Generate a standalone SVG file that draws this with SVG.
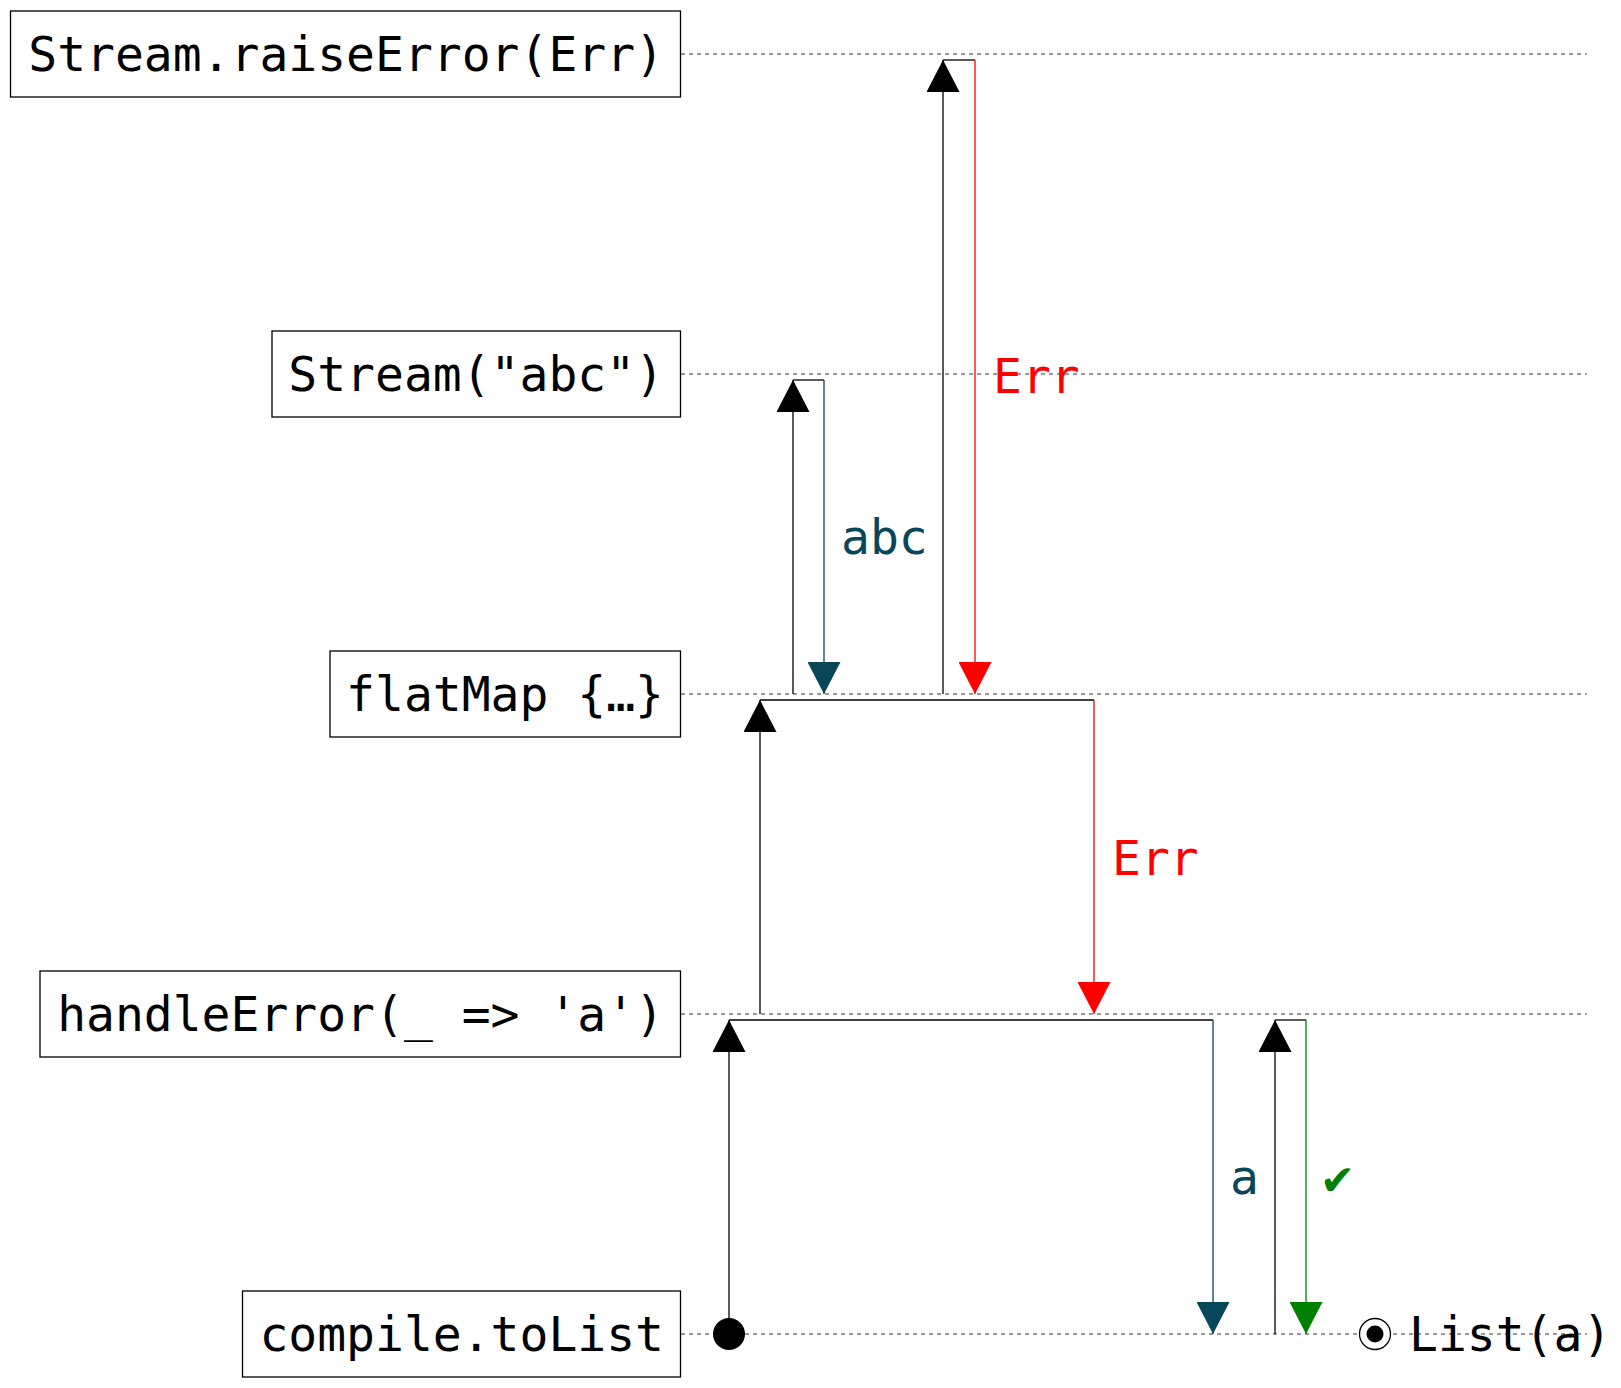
<svg xmlns="http://www.w3.org/2000/svg" width="1621" height="1388" viewBox="0 0 1621 1388">
  <style>
    .box { fill: #ffffff; stroke: #000000; stroke-width: 1.3; }
    .lbl { font-family: "DejaVu Sans Mono", "Liberation Mono", monospace; font-size: 48px; }
    .node-text { text-anchor: end; fill: #000000; }
    .lane { stroke: #7a7a7a; stroke-width: 1.3; stroke-dasharray: 4 4; fill: none; }
    .wire { fill: none; stroke-width: 1.3; }
    .up { stroke: #000000; marker-end: url(#head-black); }
    .flat { stroke: #000000; }
    .val { stroke: #084659; marker-end: url(#head-teal); }
    .err { stroke: #ff0000; marker-end: url(#head-red); }
    .done { stroke: #008000; marker-end: url(#head-green); }
  </style>
  <defs>
    <marker id="head-black" viewBox="0 0 32 33" refX="32" refY="16.5" markerWidth="32" markerHeight="33" markerUnits="userSpaceOnUse" orient="auto">
      <path d="M0,0 L32,16.5 L0,33 z" fill="#000000"/>
    </marker>
    <marker id="head-teal" viewBox="0 0 32 33" refX="32" refY="16.5" markerWidth="32" markerHeight="33" markerUnits="userSpaceOnUse" orient="auto">
      <path d="M0,0 L32,16.5 L0,33 z" fill="#084659"/>
    </marker>
    <marker id="head-red" viewBox="0 0 32 33" refX="32" refY="16.5" markerWidth="32" markerHeight="33" markerUnits="userSpaceOnUse" orient="auto">
      <path d="M0,0 L32,16.5 L0,33 z" fill="#ff0000"/>
    </marker>
    <marker id="head-green" viewBox="0 0 32 33" refX="32" refY="16.5" markerWidth="32" markerHeight="33" markerUnits="userSpaceOnUse" orient="auto">
      <path d="M0,0 L32,16.5 L0,33 z" fill="#008000"/>
    </marker>
  </defs>

  <rect width="1621" height="1388" fill="#ffffff"/>

  <!-- timeline lanes -->
  <g id="lanes">
    <line class="lane" x1="681" y1="54" x2="1587" y2="54"/>
    <line class="lane" x1="681" y1="374" x2="1587" y2="374"/>
    <line class="lane" x1="681" y1="694" x2="1587" y2="694"/>
    <line class="lane" x1="681" y1="1014" x2="1587" y2="1014"/>
    <line class="lane" x1="681" y1="1334" x2="1587" y2="1334"/>
  </g>

  <!-- stages -->
  <g id="node-raise-error">
    <rect class="box" x="10.5" y="11" width="670" height="86"/>
    <text class="lbl node-text" x="664" y="71">Stream.raiseError(Err)</text>
  </g>
  <g id="node-stream-abc">
    <rect class="box" x="272" y="331" width="408.5" height="86"/>
    <text class="lbl node-text" x="664" y="391">Stream("abc")</text>
  </g>
  <g id="node-flatmap">
    <rect class="box" x="330" y="651" width="350.5" height="86"/>
    <text class="lbl node-text" x="664" y="711">flatMap {…}</text>
  </g>
  <g id="node-handle-error">
    <rect class="box" x="40" y="971" width="640.5" height="86"/>
    <text class="lbl node-text" x="664" y="1031">handleError(_ =&gt; 'a')</text>
  </g>
  <g id="node-to-list">
    <rect class="box" x="242.5" y="1291" width="438" height="86"/>
    <text class="lbl node-text" x="664" y="1351">compile.toList</text>
  </g>

  <!-- pulls and emissions -->
  <g id="connectors">
    <!-- flatMap pulls Stream("abc"), gets abc -->
    <path class="wire up" d="M793,694 V380"/>
    <path class="wire flat" d="M793,380 H824"/>
    <path class="wire val" d="M824,380 V694"/>
    <text class="lbl" x="841" y="554" fill="#084659">abc</text>

    <!-- flatMap pulls raiseError, gets Err -->
    <path class="wire up" d="M943,694 V60"/>
    <path class="wire flat" d="M943,60 H975"/>
    <path class="wire err" d="M975,60 V694"/>
    <text class="lbl" x="993" y="393" fill="#ff0000">Err</text>

    <!-- handleError pulls flatMap, gets Err -->
    <path class="wire up" d="M760,1014 V700"/>
    <path class="wire flat" d="M760,700 H1094"/>
    <path class="wire err" d="M1094,700 V1014"/>
    <text class="lbl" x="1112" y="875" fill="#ff0000">Err</text>

    <!-- toList pulls handleError, gets a -->
    <circle cx="729" cy="1334" r="16" fill="#000000"/>
    <path class="wire up" d="M729,1334 V1020"/>
    <path class="wire flat" d="M729,1020 H1213"/>
    <path class="wire val" d="M1213,1020 V1334"/>
    <text class="lbl" x="1230" y="1194" fill="#084659">a</text>

    <!-- toList pulls again, stream completes -->
    <path class="wire up" d="M1275,1334 V1020"/>
    <path class="wire flat" d="M1275,1020 H1306"/>
    <path class="wire done" d="M1306,1020 V1334"/>
    <text class="lbl" x="1323" y="1194" fill="#008000">✔</text>
  </g>

  <!-- final result -->
  <g id="result">
    <circle cx="1375" cy="1334" r="15.5" fill="#ffffff" stroke="#000000" stroke-width="1.3"/>
    <circle cx="1375" cy="1334" r="8.5" fill="#000000"/>
    <text class="lbl" x="1409" y="1351" fill="#000000">List(a)</text>
  </g>
</svg>
